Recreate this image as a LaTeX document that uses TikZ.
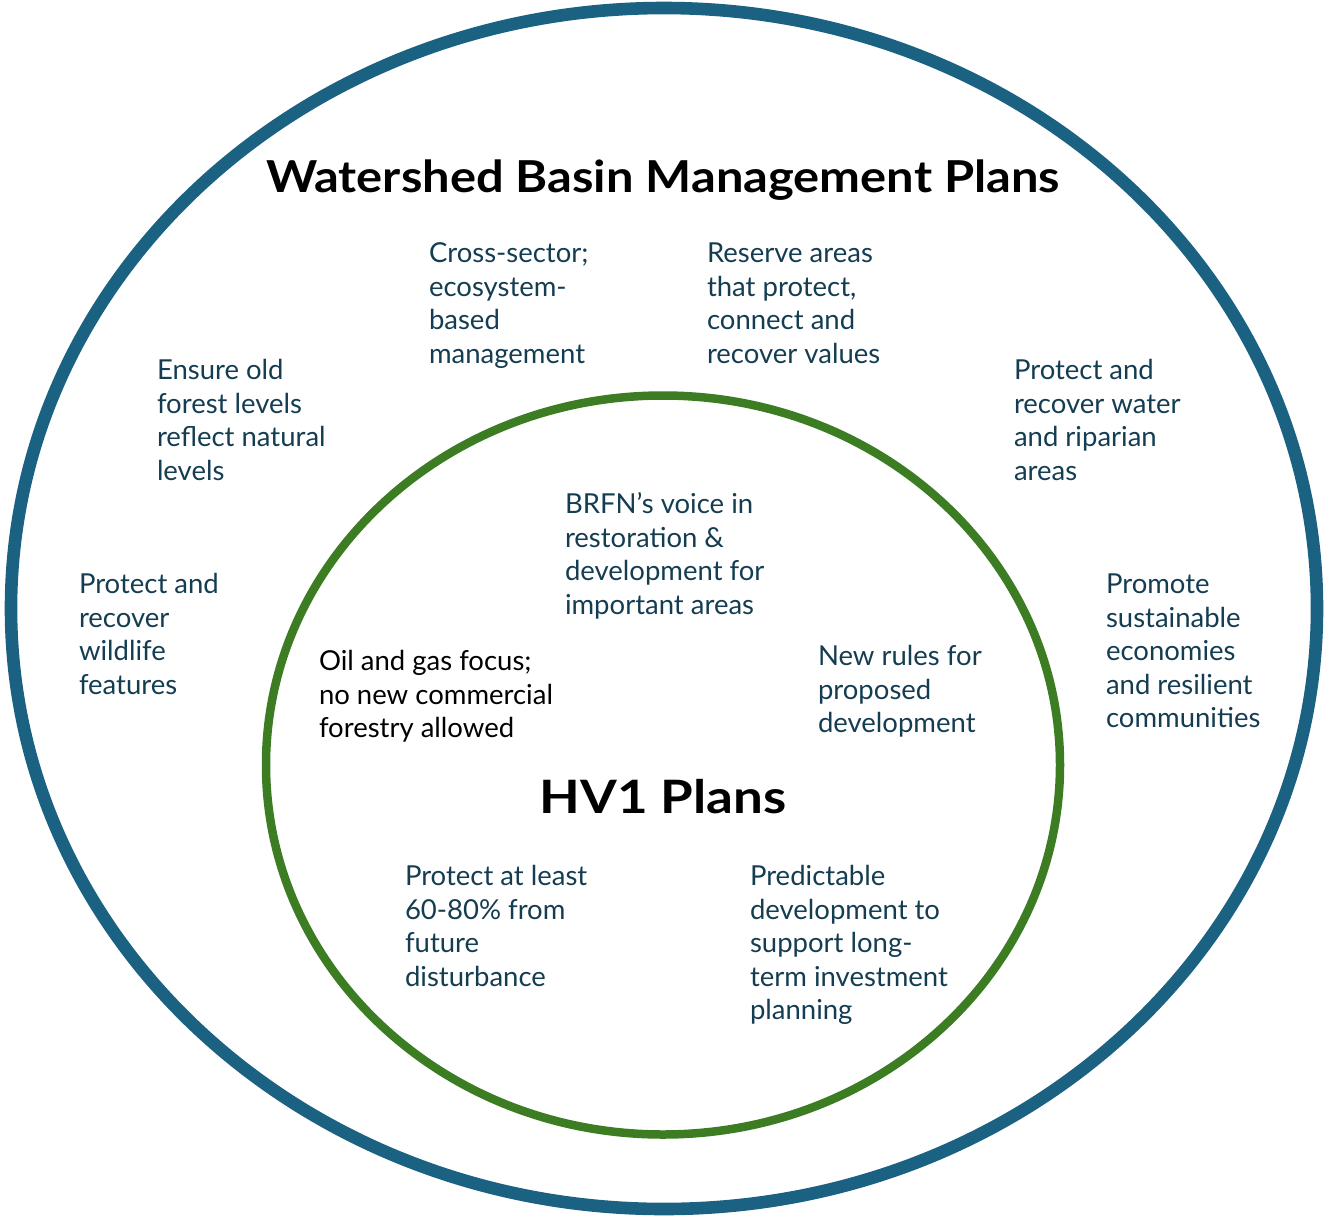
\documentclass[tikz,border=0pt]{standalone}
\usepackage{fontspec}
\setmainfont{Lato}
\definecolor{outerblue}{RGB}{27,97,130}
\definecolor{innergreen}{RGB}{60,125,35}
\definecolor{tealtext}{RGB}{21,61,82}
\begin{document}
\begin{tikzpicture}[x=1pt,y=-1pt,
  body/.style={anchor=base west,inner sep=0pt,outer sep=0pt,align=left,text=tealtext,
    font=\fontsize{27.5}{33.6}\selectfont},
  blacktext/.style={body,text=black},
  title/.style={inner sep=0pt,anchor=base,text=black}]
\useasboundingbox (0,0) rectangle (1325,1216);
\draw[outerblue,line width=12.6pt] (664,608.5) ellipse [x radius=653,y radius=600.5];
\draw[innergreen,line width=8.5pt] (663,765) ellipse [x radius=397,y radius=369.5];
\node[title,font=\fontsize{44}{50}\selectfont\bfseries] (wbmp) at (663,192) {\scalebox{1.11}[1]{Watershed Basin Management Plans}};
\node[title,font=\fontsize{46}{52}\selectfont\bfseries] (hv1) at (663,813) {\scalebox{1.15}[1]{HV1 Plans}};
\node[body] (cross) at (429,363.3) {Cross-sector;\\ecosystem-\\based\\management};
\node[body] (reserve) at (707,363.3) {Reserve areas\\that protect,\\connect and\\recover values};
\node[body] (ensure) at (157,480.3) {Ensure old\\forest levels\\reflect natural\\levels};
\node[body] (water) at (1014,480.3) {Protect and\\recover water\\and riparian\\areas};
\node[body] (wildlife) at (79,694.3) {Protect and\\recover\\wildlife\\features};
\node[body] (promote) at (1106,727.9) {Promote\\sustainable\\economies\\and resilient\\communities};
\node[body] (brfn) at (565,614.3) {BRFN’s voice in\\restoration \&\\development for\\important areas};
\node[blacktext] (oil) at (319,737.7) {Oil and gas focus;\\no new commercial\\forestry allowed};
\node[body] (rules) at (818,732.7) {New rules for\\proposed\\development};
\node[body] (protect) at (405,986.3) {Protect at least\\60-80\% from\\future\\disturbance};
\node[body] (predict) at (750,1019.9) {Predictable\\development to\\support long-\\term investment\\planning};
\end{tikzpicture}
\end{document}
